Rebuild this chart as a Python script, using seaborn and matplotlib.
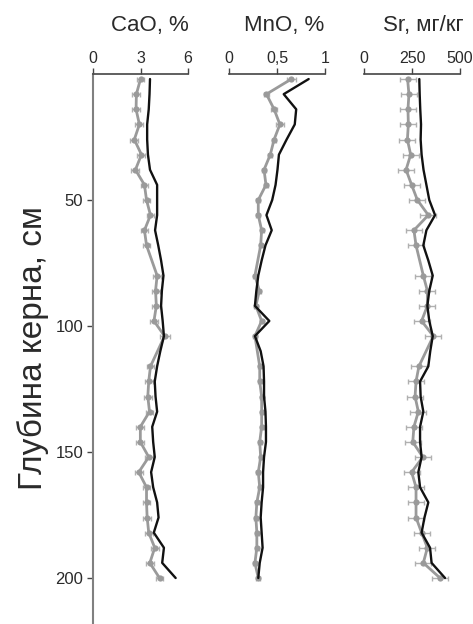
import matplotlib
matplotlib.use("Agg")
import matplotlib.pyplot as plt
import matplotlib.transforms as mtransforms
import seaborn as sns
import pandas as pd
import numpy as np

sns.set_theme(style="white")
plt.rcParams['font.family'] = ['Liberation Sans', 'DejaVu Sans']

# ---- data ----
depth_gray = [2, 8, 14, 20, 26, 32, 38, 44, 50, 56, 62, 68, 80, 86, 92, 98, 104,
              116, 122, 128, 134, 140, 146, 152, 158, 164, 170, 176, 182, 188, 194, 200]
depth_black = [2, 8, 14, 20, 26, 32, 38, 44, 50, 56, 62, 68, 74, 80, 86, 92, 98, 104,
               110, 116, 122, 128, 134, 140, 146, 152, 158, 164, 170, 176, 182, 188, 194, 200]

cao_gray = [3.0, 2.74, 2.72, 2.93, 2.61, 3.06, 2.68, 3.25, 3.38, 3.63, 3.25, 3.38, 4.05, 3.95,
            4.0, 3.85, 4.52, 3.63, 3.52, 3.46, 3.57, 2.99, 2.99, 3.52, 2.89, 3.38, 3.38, 3.42,
            3.52, 3.9, 3.59, 4.2]
cao_err = [0.25] * 16 + [0.32] + [0.25] * 15
cao_black = [3.6, 3.57, 3.52, 3.42, 3.42, 3.47, 3.6, 4.05, 4.05, 4.05, 3.92, 4.12, 4.3, 4.45,
             4.35, 4.3, 4.4, 4.48, 4.25, 4.05, 3.9, 3.95, 4.05, 3.74, 3.8, 3.9, 3.67, 3.8,
             4.05, 4.14, 3.84, 4.48, 4.37, 5.22]

mno_gray = [0.65, 0.39, 0.47, 0.53, 0.47, 0.43, 0.365, 0.385, 0.305, 0.305, 0.34, 0.33, 0.27,
            0.316, 0.28, 0.34, 0.27, 0.32, 0.32, 0.34, 0.34, 0.34, 0.32, 0.33, 0.305, 0.32,
            0.29, 0.28, 0.29, 0.29, 0.27, 0.305]
mno_err = [0.05, 0.03, 0.03, 0.04] + [0.02] * 28
mno_black = [0.83, 0.57, 0.70, 0.685, 0.60, 0.52, 0.505, 0.485, 0.45, 0.39, 0.445, 0.38, 0.34,
             0.305, 0.285, 0.27, 0.42, 0.27, 0.33, 0.36, 0.365, 0.365, 0.38, 0.385, 0.385,
             0.365, 0.355, 0.355, 0.34, 0.33, 0.34, 0.35, 0.32, 0.305]

sr_gray = [227, 234, 229, 231, 226, 243, 219, 248, 278, 335, 260, 271, 309, 330, 330, 300, 361,
           286, 271, 266, 283, 260, 254, 306, 248, 271, 271, 271, 300, 330, 309, 396]
sr_err = [42] * 32
sr_black = [288, 290, 293, 297, 295, 300, 310, 325, 340, 370, 325, 309, 335, 358, 340, 330, 340,
            358, 345, 335, 292, 295, 309, 292, 292, 300, 283, 292, 335, 315, 300, 344, 352, 422]

titles = ["CaO, %", "MnO, %", "Sr, мг/кг"]
xticks = [[0, 3, 6], [0, 0.5, 1], [0, 250, 500]]
xticklabels = [["0", "3", "6"], ["0", "0,5", "1"], ["0", "250", "500"]]
title_x = [3.57, 0.573, 307]
ylabel = "Глубина керна, см"
yticks = [50, 100, 150, 200]

# ---- figure ----
W, H = 473, 624
fig = plt.figure(figsize=(W / 100, H / 100), dpi=100)
lefts = [93, 229, 364]
widths = [95, 96, 96]
top_px = 74
ax_bottom = 0.0
ax_height = (H - top_px) / H

grays = [cao_gray, mno_gray, sr_gray]
errs = [cao_err, mno_err, sr_err]
blacks = [cao_black, mno_black, sr_black]

gray_c = "#9a9a9a"
err_c = "#b0b0b0"
txt_c = "#2a2a2a"
axes = []
for i in range(3):
    ax = fig.add_axes([lefts[i] / W, ax_bottom, widths[i] / W, ax_height])
    axes.append(ax)
    dfg = pd.DataFrame({"v": grays[i], "d": depth_gray})
    dfb = pd.DataFrame({"v": blacks[i], "d": depth_black})
    ax.errorbar(grays[i], depth_gray, xerr=errs[i], fmt="none", ecolor=err_c,
                elinewidth=1.0, capsize=1.8, capthick=1.0, zorder=1)
    sns.lineplot(data=dfg, x="v", y="d", orient="y", sort=False, ax=ax, color=gray_c,
                 linewidth=2.0, marker="o", markersize=4.5, markeredgewidth=0,
                 markerfacecolor=gray_c, zorder=2)
    sns.lineplot(data=dfb, x="v", y="d", orient="y", sort=False, ax=ax, color="#111111",
                 linewidth=1.7, zorder=3)
    ax.set_xlim(xticks[i][0], xticks[i][-1])
    ax.set_ylim((H - top_px) / 2.52, 0)
    ax.xaxis.set_ticks_position("top")
    ax.set_xticks(xticks[i])
    ax.set_xticklabels(xticklabels[i])
    ax.tick_params(axis="x", direction="out", length=4, width=1.0, color="#444444",
                   labelsize=11.5, labelcolor=txt_c, pad=2, top=True, bottom=False)
    ax.set_xlabel("")
    ax.set_ylabel("")
    for s in ["bottom", "right"]:
        ax.spines[s].set_visible(False)
    ax.spines["top"].set_color("#444444")
    ax.spines["top"].set_linewidth(1.2)
    if i == 0:
        ax.spines["left"].set_color("#808080")
        ax.spines["left"].set_linewidth(1.5)
        ax.set_yticks(yticks)
        ax.set_yticklabels([str(t) for t in yticks])
        ax.tick_params(axis="y", direction="out", length=4, width=1.0, color="#444444",
                       labelsize=12, labelcolor=txt_c, pad=3, left=True)
    else:
        ax.spines["left"].set_visible(False)
        ax.set_yticks([])
    ax.grid(False)
    ax.set_facecolor("none")
    trans = mtransforms.blended_transform_factory(ax.transData, fig.transFigure)
    ax.text(title_x[i], 1 - 25 / H, titles[i], transform=trans, ha="center", va="center",
            fontsize=16, color=txt_c)

fig.text(33 / W, 1 - 348 / H, ylabel, rotation=90, ha="center", va="center",
         fontsize=24, color=txt_c)

fig.savefig("out.png", dpi=100)
